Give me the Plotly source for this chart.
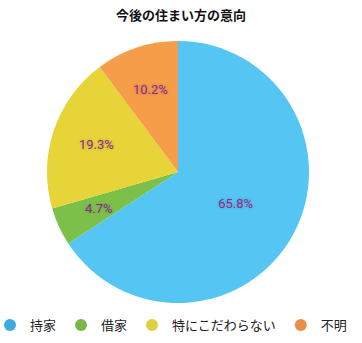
import math
import plotly.graph_objects as go

labels = ["持家", "借家", "特にこだわらない", "不明"]
values = [65.8, 4.7, 19.3, 10.2]
slice_colors = ["#55C6F3", "#7CC04A", "#E7D438", "#F59D49"]
legend_colors = ["#3DAAE0", "#7AB648", "#E0CF3E", "#E8904A"]
title = "今後の住まい方の意向"

W, H = 362, 343
MB = 35
PH = H - MB
FONT = "Noto Sans CJK JP"
LABEL_FONT = dict(family="Roboto, Noto Sans", size=13, color="#8E2C8E",
                  shadow="0px 0px 3px rgba(90,40,90,0.35)")

dom_x = [47/W, 309/W]
dom_y = [(PH-303)/PH, (PH-41)/PH]
biggest = values.index(max(values))

fig = go.Figure()
fig.add_trace(go.Pie(
    labels=labels, values=values, sort=False, direction="clockwise", rotation=0,
    marker=dict(colors=slice_colors, line=dict(width=0)),
    texttemplate=["%{value:.1f}%" if i == biggest else "" for i in range(len(values))],
    textinfo="text", textposition="inside", insidetextorientation="horizontal",
    textfont=LABEL_FONT,
    showlegend=False, hoverinfo="label+percent",
    domain=dict(x=dom_x, y=dom_y),
))

# labels of the smaller slices at 2/3 of the radius, on each slice's mid-angle
total = sum(values)
cx_px = (dom_x[0] + dom_x[1]) / 2 * W
cy_px = (dom_y[0] + dom_y[1]) / 2 * PH
r_px = (dom_x[1] - dom_x[0]) * W / 2
cum = 0.0
for i, v in enumerate(values):
    mid = (cum + v / 2) / total * 2 * math.pi
    cum += v
    if i == biggest:
        continue
    px = cx_px + 0.66 * r_px * math.sin(mid)
    py = cy_px + 0.66 * r_px * math.cos(mid)
    fig.add_annotation(x=px / W, y=py / PH, xref="paper", yref="paper",
                       text=f"{v:.1f}%", showarrow=False, font=LABEL_FONT,
                       xanchor="center", yanchor="middle")

for lab, col in zip(labels, legend_colors):
    fig.add_trace(go.Scatter(
        x=[None], y=[None], mode="markers", name=lab,
        marker=dict(symbol="circle", size=11, color=col),
    ))

fig.update_layout(
    width=W, height=H,
    margin=dict(l=0, r=0, t=0, b=MB, autoexpand=False),
    paper_bgcolor="white", plot_bgcolor="white",
    title=dict(text="<b>" + title + "</b>", x=0.5, xanchor="center", y=1-15/H, yanchor="middle",
               font=dict(family=FONT, size=13, color="#111111")),
    xaxis=dict(visible=False), yaxis=dict(visible=False),
    legend=dict(orientation="h", x=-10/W, xanchor="left", y=(PH-325)/PH, yanchor="middle",
                font=dict(family=FONT, size=13, color="#222222"),
                itemsizing="constant", tracegroupgap=0),
)
fig.write_html("out.html")
